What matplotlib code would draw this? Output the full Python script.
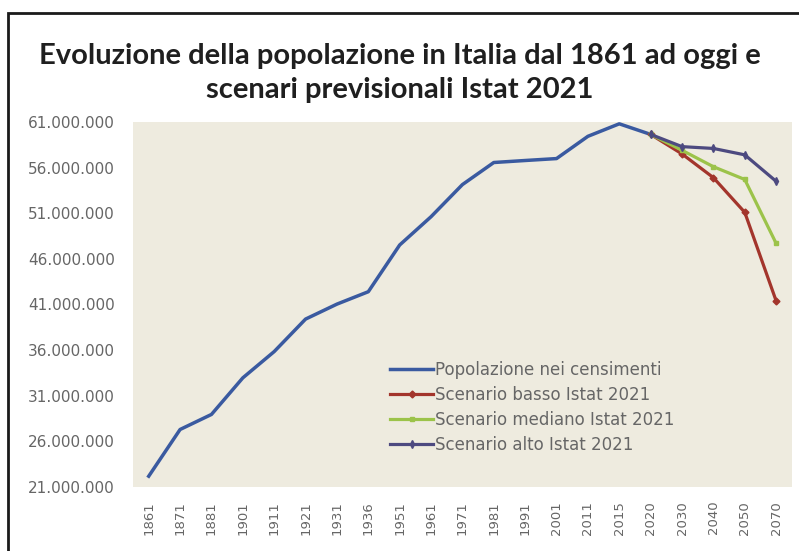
"""Popolazione italiana ai censimenti e scenari Istat 2021 (grafico a linee)."""
import numpy as np
import matplotlib
matplotlib.use("Agg")
import matplotlib.pyplot as plt
from matplotlib.patches import Rectangle
from matplotlib.ticker import FuncFormatter

years = ["1861", "1871", "1881", "1901", "1911", "1921", "1931", "1936", "1951",
         "1961", "1971", "1981", "1991", "2001", "2011", "2015", "2020", "2030",
         "2040", "2050", "2070"]

# milioni di abitanti
census = [22.18, 27.30, 28.95, 32.96, 35.84, 39.40, 41.04, 42.40, 47.52, 50.62,
          54.14, 56.56, 56.78, 56.99, 59.43, 60.80, 59.64]
scen_low = [59.64, 57.5, 54.9, 51.1, 41.4]
scen_mid = [59.64, 57.9, 56.1, 54.7, 47.7]
scen_high = [59.64, 58.3, 58.1, 57.4, 54.5]

y_ticks = [21, 26, 31, 36, 41, 46, 51, 56, 61]

GREY = "#666666"

fig = plt.figure(figsize=(7.99, 5.51), dpi=100)
ax = fig.add_axes([0.1665, 0.1162, 0.8245, 0.6624])
ax.set_facecolor("#eeebdf")

x_all = np.arange(len(years))
x_cens = x_all[:len(census)]
x_scen = x_all[len(census) - 1:]

ax.plot(x_cens, np.array(census) * 1e6, color="#3a5aa0", lw=2.5,
        solid_joinstyle="round", label="Popolazione nei censimenti", zorder=3)
ax.plot(x_scen, np.array(scen_low) * 1e6, color="#a3352c", lw=2.3, marker="D",
        ms=3.5, label="Scenario basso Istat 2021", zorder=4)
ax.plot(x_scen, np.array(scen_mid) * 1e6, color="#9cc34a", lw=2.3, marker="s",
        ms=3.5, label="Scenario mediano Istat 2021", zorder=4)
ax.plot(x_scen, np.array(scen_high) * 1e6, color="#4d4a80", lw=2.3, marker="d",
        ms=4, label="Scenario alto Istat 2021", zorder=5)

ax.set_xlim(-0.5, len(years) - 0.5)
ax.set_ylim(y_ticks[0] * 1e6, y_ticks[-1] * 1e6)
ax.set_yticks([v * 1e6 for v in y_ticks])
ax.yaxis.set_major_formatter(FuncFormatter(lambda v, _: f"{v:,.0f}".replace(",", ".")))
ax.set_xticks(x_all)
ax.set_xticklabels(years, rotation=90)
ax.tick_params(length=0, colors=GREY)
ax.tick_params(axis="y", pad=13, labelsize=11)
ax.tick_params(axis="x", pad=10, labelsize=9.5)
for s in ax.spines.values():
    s.set_visible(False)

ax.legend(loc="upper left", bbox_to_anchor=(0.39, 0.345), frameon=False,
          fontsize=12, labelcolor=GREY, handlelength=2.6, handletextpad=0.1,
          labelspacing=0.42, borderaxespad=0, borderpad=0)

fig.text(0.5, 0.868, "Evoluzione della popolazione in Italia dal 1861 ad oggi e\n"
         "scenari previsionali Istat 2021", ha="center", va="center",
         fontsize=21, fontweight="bold", family="Lato", color="#1f1f1f",
         linespacing=1.4)

# cornice scura attorno al grafico
fig.add_artist(Rectangle((8, -10), 810, 548, transform=None, fill=False,
                         edgecolor="#1a1a1a", lw=2))

fig.savefig("out.png", dpi=100)
